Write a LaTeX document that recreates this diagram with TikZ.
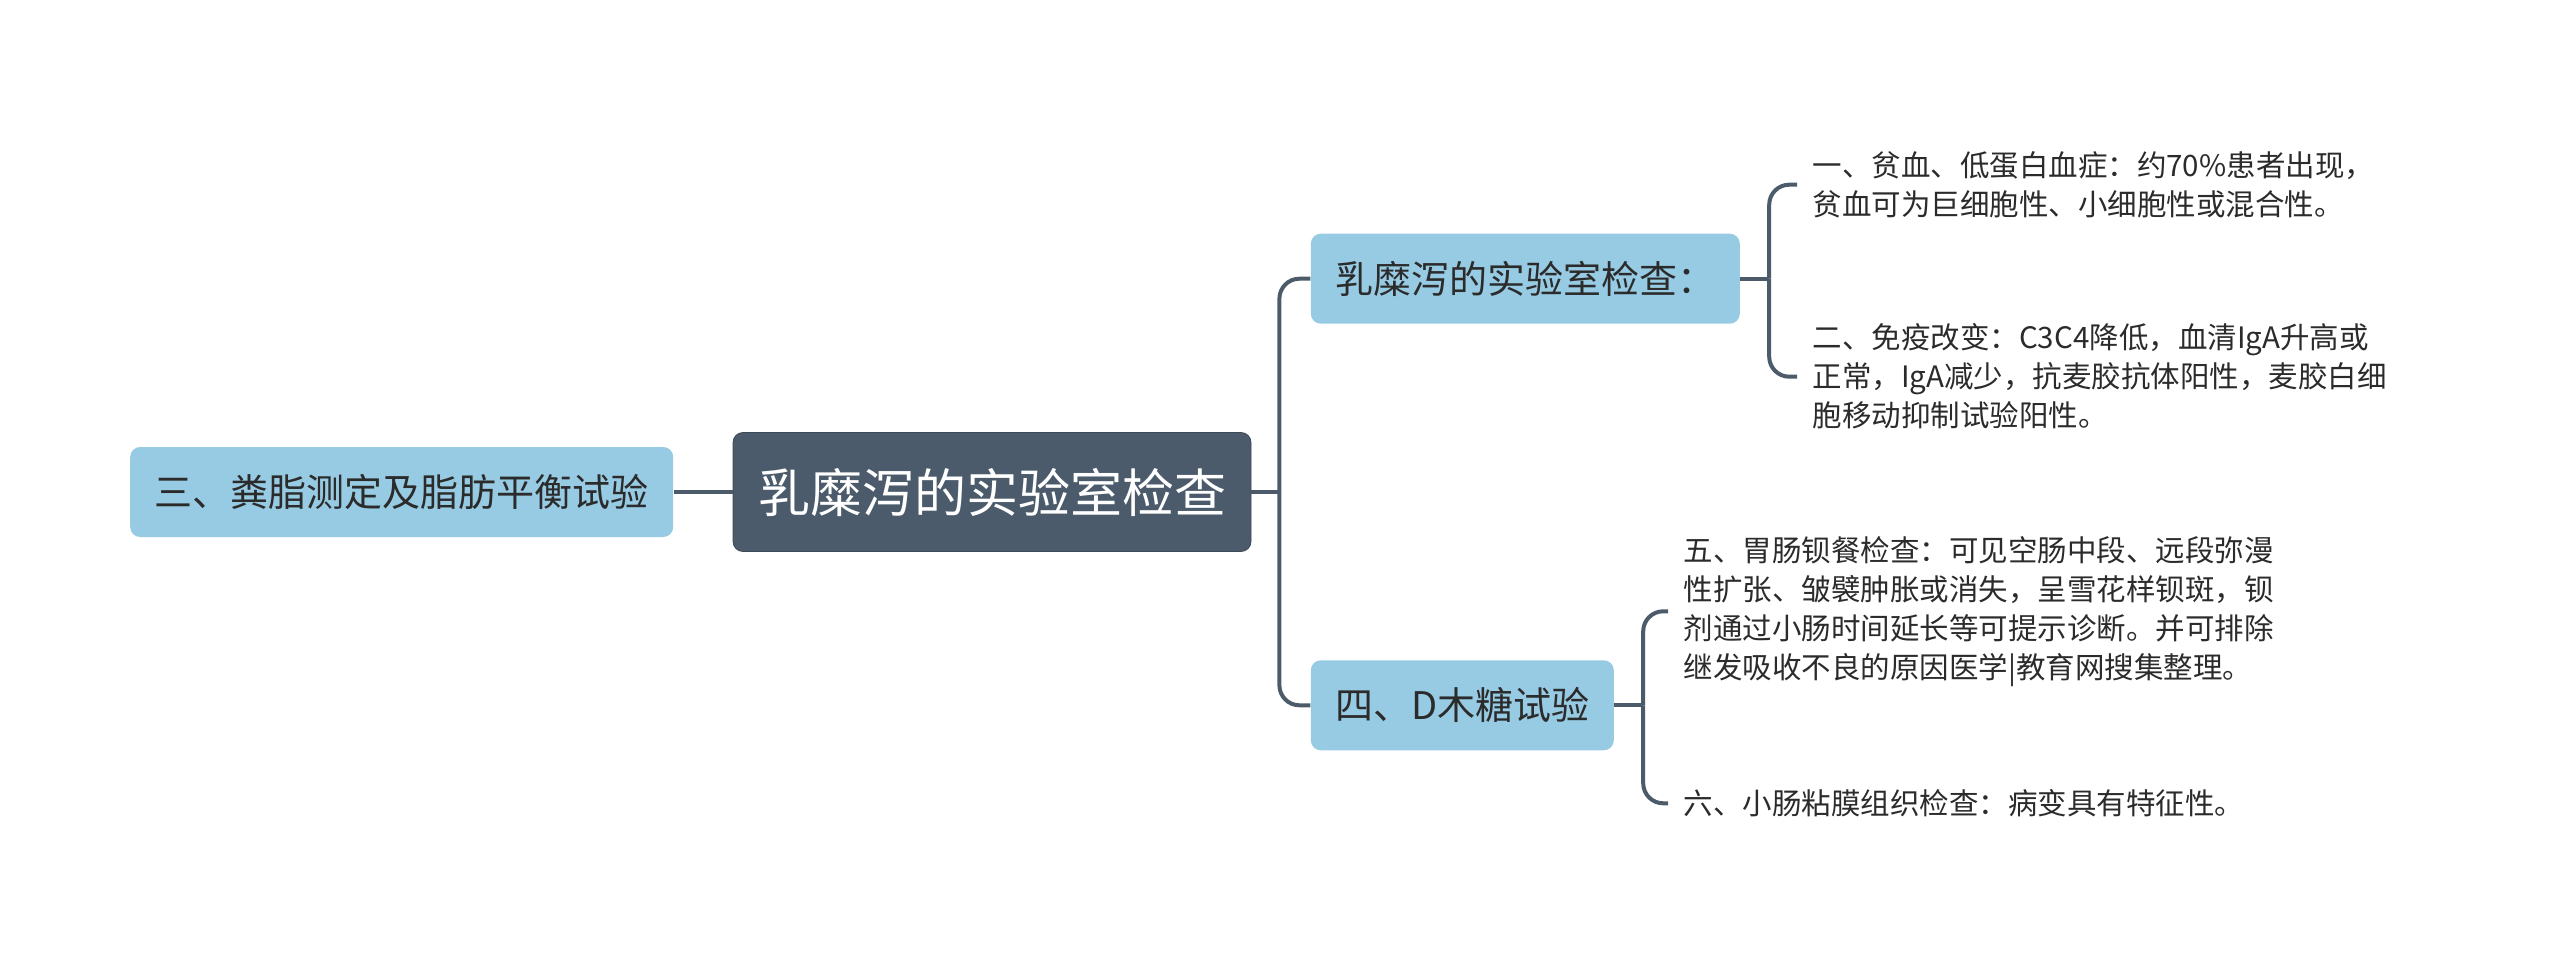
\documentclass[tikz,border=0pt]{standalone}
\usepackage{fontspec}
\setmainfont{Noto Sans CJK SC}
\usepackage{tikz}
\usetikzlibrary{positioning}
\definecolor{MapDark}{HTML}{4B5B6B}
\definecolor{MapLine}{HTML}{4C5B6A}
\definecolor{MapBlue}{HTML}{97CBE3}
\definecolor{MapText}{HTML}{2B2B2B}

\begin{document}
\begin{tikzpicture}[
    x=0.5pt, y=0.5pt,
    rootbox/.style={
      fill=MapDark,
      draw=MapDark!80!black,
      rounded corners=5pt,
      minimum width=259pt,
      minimum height=59.5pt,
      text=white,
      inner sep=0pt,
      font=\fontsize{26}{30}\selectfont
    },
    topicbox/.style={
      fill=MapBlue,
      draw=none,
      rounded corners=5pt,
      minimum height=45pt,
      text=MapText,
      inner sep=0pt,
      font=\fontsize{19}{23}\selectfont
    },
    leaf/.style={
      align=left,
      inner xsep=7.5pt,
      inner ysep=0pt,
      text=MapText,
      font=\fontsize{14.75}{19.5}\selectfont
    },
    link/.style={
      draw=MapLine,
      line width=2pt,
      rounded corners=10pt
    }
  ]
  \useasboundingbox (0,0) rectangle (2560,966);

  % 中心主题
  \node[rootbox] (root) at (992,474) {乳糜泻的实验室检查};

  % 一级分支
  \node[topicbox, minimum width=271.5pt, left=29.5pt of root] (fat) {三、粪脂测定及脂肪平衡试验};
  \node[topicbox, minimum width=214.5pt, above right=54pt and 29.5pt of root] (lab) {乳糜泻的实验室检查：};
  \node[topicbox, minimum width=151.5pt, below right=54pt and 29.5pt of root] (xyl) {四、D木糖试验};

  % 叶子说明
  \node[leaf, right=28.5pt of lab, yshift=47pt] (anemia) {一、贫血、低蛋白血症：约70\%患者出现，\\贫血可为巨细胞性、小细胞性或混合性。};
  \node[leaf, right=28.5pt of lab, yshift=-49pt] (immune) {二、免疫改变：C3C4降低，血清IgA升高或\\正常，IgA减少，抗麦胶抗体阳性，麦胶白细\\胞移动抑制试验阳性。};
  \node[leaf, right=27pt of xyl, yshift=47pt] (barium) {五、胃肠钡餐检查：可见空肠中段、远段弥漫\\性扩张、皱襞肿胀或消失，呈雪花样钡斑，钡\\剂通过小肠时间延长等可提示诊断。并可排除\\继发吸收不良的原因医学|教育网搜集整理。};
  \node[leaf, right=27pt of xyl, yshift=-49pt] (biopsy) {六、小肠粘膜组织检查：病变具有特征性。};

  % 中心到分支
  \draw[link] (root.west) -- (fat.east);
  \draw[link] (root.east) -- ++(14pt,0) coordinate (rootj);
  \draw[link] (rootj) |- (lab.west);
  \draw[link] (rootj) |- (xyl.west);

  % 分支到叶子
  \draw[link] (lab.east) -- ++(14.5pt,0) coordinate (labj);
  \draw[link] (labj) |- (anemia.west);
  \draw[link] (labj) |- (immune.west);
  \draw[link] (xyl.east) -- ++(14.5pt,0) coordinate (xylj);
  \draw[link] (xylj) |- (barium.west);
  \draw[link] (xylj) |- (biopsy.west);

\end{tikzpicture}
\end{document}
